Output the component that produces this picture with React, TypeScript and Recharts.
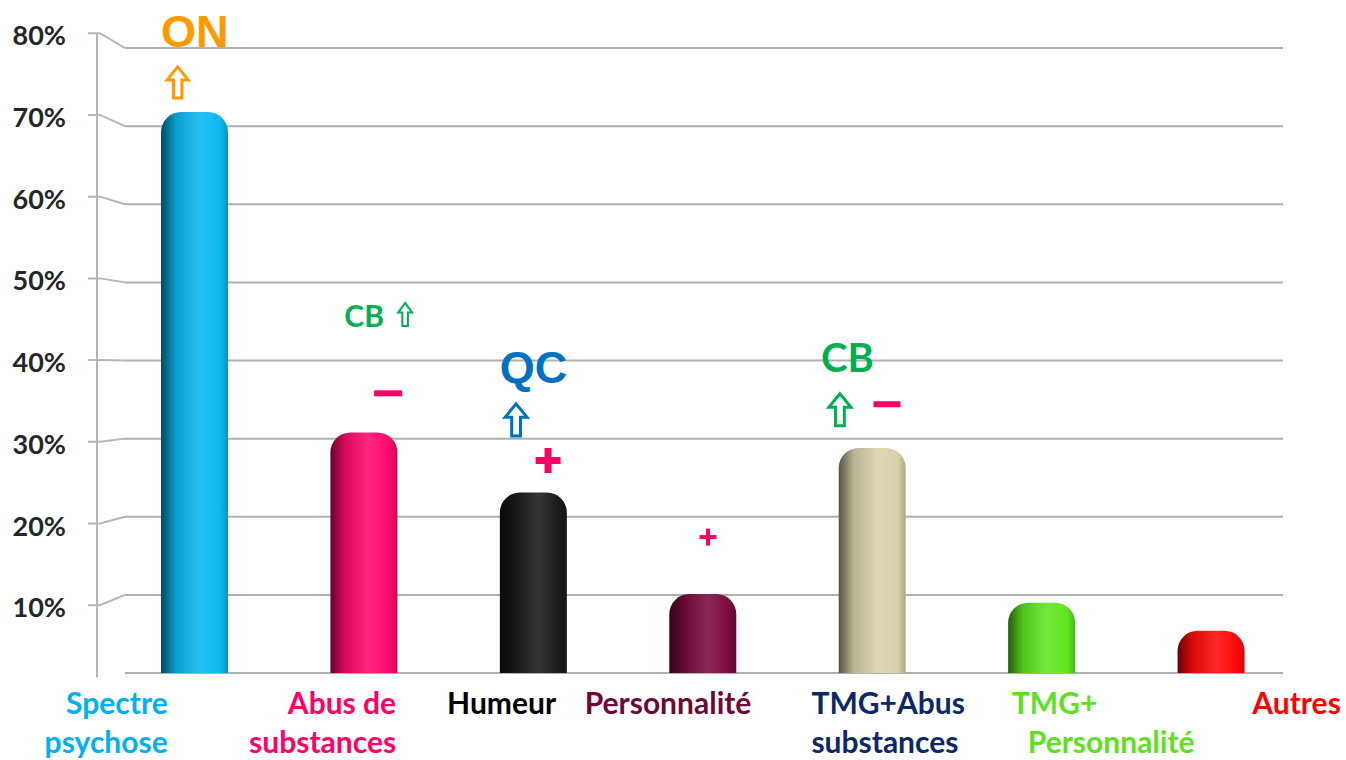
import { BarChart, Bar, XAxis, YAxis, CartesianGrid, Cell, ReferenceDot } from "recharts";

const categories = [
  "Spectre psychose",
  "Abus de substances",
  "Humeur",
  "Personnalité",
  "TMG+Abus substances",
  "TMG+ Personnalité",
  "Autres",
];
const values = [71.8, 30.8, 23.1, 10.1, 28.8, 9.0, 5.4];
const yTicks = [0, 10, 20, 30, 40, 50, 60, 70, 80];
const labelLines = [
  ["Spectre", "psychose"],
  ["Abus de", "substances"],
  ["Humeur"],
  ["Personnalité"],
  ["TMG+Abus", "substances"],
  ["TMG+", "Personnalité"],
  ["Autres"],
];

// styling
const barColors = ["#0bb8f0", "#ff0a6c", "#1a1a1a", "#7a0c3e", "#d8d2aa", "#5fe61e", "#ff0a0a"];
const labelColors = ["#00b0f0", "#ff0066", "#000000", "#6e0737", "#0c2866", "#5fe022", "#ff0000"];
const labelPlacement = [
  { anchor: "end", dx: [-27, -27] },
  { anchor: "end", dx: [32, 32] },
  { anchor: "middle", dx: [-32] },
  { anchor: "middle", dx: [-35] },
  { anchor: "start", dx: [-61, -61] },
  { anchor: "start", dx: [-30, -14] },
  { anchor: "start", dx: [41] },
];

// annotations placed in data coordinates (category index, value) plus a pixel nudge
const annotations = [
  { cat: 0, v: 80.1, dx: 0, kind: "text", text: "ON", color: "#ff9900", size: 45, font: "'Liberation Sans', Arial" },
  { cat: 0, v: 75.6, dx: -17, kind: "arrow", color: "#ff9900", size: 34, w: 24 },
  { cat: 1, v: 44.3, dx: 0, kind: "text", text: "CB", color: "#00b050", size: 30, font: "Lato" },
  { cat: 1, v: 45.9, dx: 41, kind: "arrow", color: "#00b050", size: 25, w: 16 },
  { cat: 1, v: 35.8, dx: 24, kind: "minus", color: "#ff0066", size: 28, t: 6 },
  { cat: 2, v: 37.1, dx: 0, kind: "text", text: "QC", color: "#0070c0", size: 45, font: "'Liberation Sans', Arial" },
  { cat: 2, v: 32.4, dx: -17.5, kind: "arrow", color: "#0070c0", size: 35, w: 25 },
  { cat: 2, v: 27.2, dx: 14.5, kind: "plus", color: "#ff0066", size: 25, t: 7 },
  { cat: 3, v: 17.4, dx: 5, kind: "plus", color: "#ff0066", size: 17, t: 4 },
  { cat: 4, v: 38.5, dx: -25, kind: "text", text: "CB", color: "#00b050", size: 40, font: "Lato" },
  { cat: 4, v: 33.7, dx: -32.5, kind: "arrow", color: "#00b050", size: 35, w: 25 },
  { cat: 4, v: 34.4, dx: 14.5, kind: "minus", color: "#ff0066", size: 27, t: 6 },
];

const data = categories.map((name, i) => ({ name, value: values[i] }));

function mix(hex: string, target: string, t: number) {
  const a = parseInt(hex.slice(1), 16);
  const b = parseInt(target.slice(1), 16);
  const ch = (n: number, s: number) => (n >> s) & 255;
  const m = (s: number) => Math.round(ch(a, s) + (ch(b, s) - ch(a, s)) * t);
  return `rgb(${m(16)},${m(8)},${m(0)})`;
}

function YTick(props: any) {
  const { y, payload } = props;
  const v = payload.value;
  if (v === 0) return <g />;
  // front edge of the 3D wall sits a bit off the back gridline
  const fy = y + 14 - 0.36 * v;
  const down = v === 10 ? 72 : 82;
  return (
    <g>
      <line x1={97} y1={fy} x2={97} y2={fy + down} stroke="#b5b5b5" strokeWidth={2} />
      <polyline points={`88,${fy} 100,${fy} 125,${y}`} fill="none" stroke="#b5b5b5" strokeWidth={2} />
      <text
        x={66}
        y={fy + 12}
        textAnchor="end"
        fontFamily="Lato"
        fontWeight={700}
        fontSize={27}
        fill="#262626"
      >
        {v}%
      </text>
    </g>
  );
}

function XTick(props: any) {
  const { x, payload, index } = props;
  const i = index ?? categories.indexOf(payload.value);
  const place = labelPlacement[i];
  return (
    <g>
      {labelLines[i].map((line, k) => (
        <text
          key={k}
          x={x + place.dx[k]}
          y={714 + k * 39}
          textAnchor={place.anchor}
          fontFamily="Lato"
          fontWeight={700}
          fontSize={30}
          fill={labelColors[i]}
        >
          {line}
        </text>
      ))}
    </g>
  );
}

function renderAnnotation(a: any) {
  return (p: any) => {
    const cx = p.cx + a.dx;
    const cy = p.cy;
    if (a.kind === "text") {
      return (
        <text x={cx} y={cy} textAnchor="middle" fontFamily={a.font} fontWeight={700} fontSize={a.size} fill={a.color}>
          {a.text}
        </text>
      );
    }
    if (a.kind === "minus") {
      return <rect x={cx - a.size / 2} y={cy - a.t / 2} width={a.size} height={a.t} fill={a.color} />;
    }
    if (a.kind === "plus") {
      return (
        <g fill={a.color}>
          <rect x={cx - a.size / 2} y={cy - a.t / 2} width={a.size} height={a.t} />
          <rect x={cx - a.t / 2} y={cy - a.size / 2} width={a.t} height={a.size} />
        </g>
      );
    }
    const sw = a.size > 30 ? 3 : 2;
    const h = a.size - sw;
    const w = a.w - sw;
    const top = cy - h / 2;
    const bottom = cy + h / 2;
    const hh = h * 0.42;
    const s = w * 0.2;
    const pts = [
      [cx, top],
      [cx + w / 2, top + hh],
      [cx + s, top + hh],
      [cx + s, bottom],
      [cx - s, bottom],
      [cx - s, top + hh],
      [cx - w / 2, top + hh],
    ]
      .map((q) => q.join(","))
      .join(" ");
    return <polygon points={pts} fill="#ffffff" stroke={a.color} strokeWidth={sw} strokeLinejoin="miter" />;
  };
}

export default function App() {
  return (
    <div style={{ position: "absolute", left: 0, top: 0, width: 1346, height: 760, background: "#ffffff" }}>
      <BarChart width={1346} height={760} data={data} margin={{ top: 48, right: 63, bottom: 0, left: 0 }}>
        <defs>
          {barColors.map((c, i) => (
            <linearGradient key={i} id={`bar-grad-${i}`} x1="0" y1="0" x2="1" y2="0">
              <stop offset="0%" stopColor={mix(c, "#000000", 0.6)} />
              <stop offset="22%" stopColor={mix(c, "#000000", 0.15)} />
              <stop offset="58%" stopColor={mix(c, "#ffffff", 0.12)} />
              <stop offset="88%" stopColor={c} />
              <stop offset="100%" stopColor={mix(c, "#000000", 0.2)} />
            </linearGradient>
          ))}
        </defs>
        <CartesianGrid vertical={false} stroke="#b0b0b0" strokeWidth={2} />
        <XAxis
          dataKey="name"
          height={87}
          interval={0}
          tickLine={false}
          axisLine={false}
          padding={{ left: -15, right: -13 }}
          tick={<XTick />}
        />
        <YAxis
          width={125}
          domain={[0, 80]}
          ticks={yTicks}
          interval={0}
          tickLine={false}
          axisLine={false}
          tick={<YTick />}
        />
        <Bar dataKey="value" barSize={67} radius={[20, 20, 0, 0]} isAnimationActive={false}>
          {data.map((_, i) => (
            <Cell key={i} fill={`url(#bar-grad-${i})`} />
          ))}
        </Bar>
        {annotations.map((a, i) => (
          <ReferenceDot
            key={i}
            x={categories[a.cat]}
            y={a.v}
            ifOverflow="visible"
            shape={renderAnnotation(a)}
          />
        ))}
      </BarChart>
    </div>
  );
}
